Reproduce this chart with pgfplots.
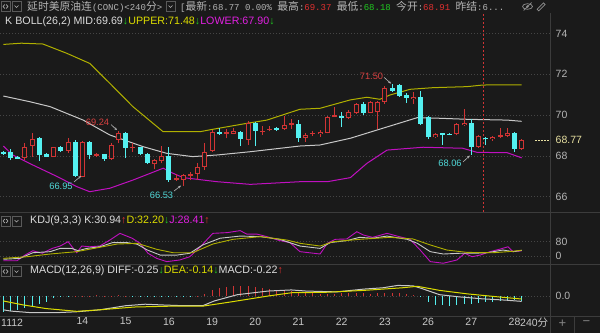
\documentclass[border=0pt]{standalone}
\usepackage{pgfplots}
\pgfplotsset{compat=1.18}
\usepackage{pgfplotstable}
\usetikzlibrary{arrows.meta}
\usepackage{fontspec}
\setmainfont{Liberation Sans}
\setmonofont{Liberation Mono}
\newfontfamily\cjk{Noto Sans CJK SC}
\definecolor{bg}{HTML}{1A1A1A}
\definecolor{sepc}{HTML}{3C3C3C}
\definecolor{gridc}{HTML}{454545}
\definecolor{lblc}{HTML}{B4B4B4}
\definecolor{txtc}{HTML}{DCDCDC}
\definecolor{candR}{HTML}{D03434}
\definecolor{candC}{HTML}{54F0F0}
\definecolor{midc}{HTML}{C8C8C8}
\definecolor{upc}{HTML}{B0B000}
\definecolor{loc}{HTML}{C010C0}
\definecolor{ylw}{HTML}{DCDC00}
\definecolor{mag}{HTML}{E020E0}
\definecolor{grn}{HTML}{20C820}
\definecolor{redA}{HTML}{E03030}
\definecolor{annR}{HTML}{D84040}
\definecolor{annC}{HTML}{50D8D8}
\definecolor{iconc}{HTML}{5A5A5A}
\definecolor{curc}{HTML}{E6DFA0}
\newcommand\hdr{\fontsize{10.7}{12}\selectfont}
\newcommand\lbl{\fontsize{10.5}{12}\selectfont}
\newcommand\annf{\fontsize{9.3}{11}\selectfont}
\newcommand\CJ[1]{{\cjk\fontsize{10.8}{13}\selectfont #1}}
\newcommand\MO[1]{{\ttfamily\fontsize{9.0}{13}\selectfont #1}}
\newcommand\iconLR[2]{%
 \draw[iconc, line width=0.6pt] (#1,#2) rectangle (#1+9,#2+10);
 \draw[lblc, line width=0.6pt] (#1+3.8,#2+3) -- (#1+2,#2+5) -- (#1+3.8,#2+7) (#1+5.2,#2+3) -- (#1+7,#2+5) -- (#1+5.2,#2+7);}
\newcommand\iconV[2]{%
 \draw[iconc, line width=0.6pt] (#1,#2) rectangle (#1+9,#2+10);
 \draw[lblc, line width=0.7pt] (#1+2.5,#2+6) -- (#1+4.5,#2+4) -- (#1+6.5,#2+6);}

\pgfplotstableread{
i o h l c
3 67.88 68.61 67.79 68.45
4 68.50 69.10 67.96 68.82
7 67.96 68.45 67.94 68.42
9 68.25 68.86 68.15 68.69
11 66.98 68.74 66.95 68.66
13 68.00 68.15 67.93 68.09
15 67.83 68.61 67.80 68.53
16 68.77 69.24 68.61 69.10
18 68.37 68.61 68.18 68.45
21 67.60 67.84 67.34 67.79
22 67.75 68.48 67.63 67.99
24 66.81 67.09 66.78 66.90
25 66.81 67.09 66.53 67.06
26 67.06 67.22 66.81 67.10
27 67.11 67.63 66.81 67.47
28 67.44 68.61 67.30 68.20
29 68.24 69.26 68.20 69.18
31 69.11 69.30 68.86 69.14
32 69.07 69.38 69.05 69.22
34 68.77 69.71 68.53 69.59
36 69.20 69.45 69.02 69.23
37 69.28 69.45 69.20 69.31
39 69.30 69.95 69.28 69.51
40 69.55 69.80 69.30 69.58
42 68.89 69.10 68.70 69.02
43 69.08 69.20 68.98 69.11
44 69.05 69.25 68.92 69.18
45 69.13 69.95 69.10 69.92
46 69.94 70.38 69.90 69.97
48 69.84 70.25 69.80 70.16
49 70.11 70.60 70.05 70.52
51 70.11 70.70 70.08 70.65
52 70.16 70.70 69.30 70.62
53 70.62 71.40 70.55 71.34
57 70.77 71.15 70.55 70.90
60 68.91 69.10 68.88 69.07
63 69.05 69.62 69.00 69.56
64 69.51 70.28 69.45 69.62
66 68.42 69.00 68.40 68.97
68 68.82 68.98 68.75 68.94
69 68.96 69.35 68.85 68.99
70 68.97 69.35 68.90 69.13
72 68.32 68.80 68.30 68.77
}\upC
\pgfplotstableread{
i o h l c
0 68.17 68.24 68.06 68.14
1 68.20 68.32 67.79 67.91
2 67.93 67.98 67.84 67.90
5 68.86 68.94 67.76 68.04
6 68.09 68.12 67.93 67.96
8 68.42 68.48 68.18 68.25
10 68.69 68.77 66.98 67.02
12 68.66 68.74 67.83 68.04
14 68.09 68.10 67.75 67.83
17 69.10 69.18 67.88 68.40
19 68.42 68.45 68.02 68.07
20 68.09 68.12 67.60 67.63
23 67.99 68.45 66.73 66.81
30 69.18 69.35 69.04 69.07
33 69.18 69.20 68.48 68.81
35 69.59 69.67 68.48 69.22
38 69.33 69.40 69.22 69.30
41 69.56 69.75 68.69 68.86
47 69.95 70.15 69.43 69.84
50 70.52 70.62 70.02 70.11
54 71.34 71.50 71.15 71.18
55 71.47 71.50 70.90 70.93
56 70.98 71.06 70.60 70.82
58 70.90 71.20 69.50 69.54
59 69.89 69.95 68.80 68.91
61 69.09 69.12 68.53 69.05
62 69.07 69.12 69.00 69.05
65 69.62 69.82 68.06 68.42
67 68.88 68.92 68.55 68.82
71 69.13 69.18 68.18 68.32
}\dnC

\pgfplotsset{panel/.style={scale only axis, width=550pt, xmin=-0.458, xmax=75.93,
  axis line style={draw=none}, xtick=\empty, major tick length=0pt,
  ymajorgrids, grid style={gridc, line width=0.6pt, dash pattern=on 1pt off 2pt},
  yticklabel pos=right, yticklabel style={text=lblc, font=\lbl, anchor=west, inner sep=0pt, xshift=5.5pt},
  anchor=south west, clip=true},
 wick/.style={draw=none, mark=none, forget plot, error bars/.cd, y dir=plus, y explicit, error mark=none, error bar style={draw=#1, line width=1pt}},
 body/.style 2 args={draw=none, mark=none, forget plot, error bars/.cd, y dir=both, y explicit, error mark=none, error bar style={draw=#1, line width=#2}}}

\begin{document}
\begin{tikzpicture}[x=1pt,y=1pt]
\path[use as bounding box] (0,0) rectangle (600,333);
\fill[bg] (0,0) rectangle (600,333);

% ---------- main price panel ----------
\begin{axis}[panel, at={(0pt,121pt)}, height=199pt, ymin=65.245, ymax=75.0,
  ytick={66,68,70,72,74}, yticklabels={66,68,70,72,74}]
\addplot[upc, line width=1pt] coordinates {(0,73.46) (2.5,73.52) (5.5,73.48) (8.85,73.02) (12.0,72.53) (14.8,71.55) (18.0,70.41) (20.8,69.59) (22.2,69.18) (27.3,69.18) (29.1,69.30) (33.8,69.59) (36.6,69.75) (41.2,70.28) (44.0,70.33) (48.2,70.74) (50.5,70.87) (52.3,70.77) (53.7,70.98) (56.5,71.26) (59.7,71.34) (64.4,71.39) (66.6,71.47) (72,71.48)};
\addplot[midc, line width=1pt] coordinates {(0,70.93) (3.7,70.65) (6.5,70.41) (11.1,69.75) (14.8,69.02) (19.4,68.45) (22.7,68.12) (26.3,67.96) (29.7,68.04) (34.3,68.20) (41.2,68.48) (44.0,68.53) (48.2,68.86) (52.7,69.35) (57.5,69.87) (60.6,69.84) (64.4,69.79) (70,69.75) (72,69.69)};
\addplot[loc, line width=1pt] coordinates {(0,68.48) (1.3,68.04) (4.1,67.55) (7.5,66.98) (10.2,66.49) (12.0,66.24) (14.8,66.41) (18.0,66.81) (20.4,67.14) (22.2,67.39) (23.6,67.14) (25.0,66.93) (29.7,66.73) (34.3,66.60) (41.2,66.73) (45,66.73) (48.2,66.93) (50.5,67.63) (53.3,68.28) (58.3,68.42) (63.8,68.37) (65.8,68.17) (70,68.15) (72,67.90)};
\addplot[candR, line width=0.7pt, dash pattern=on 2pt off 2pt] coordinates {(66.67,65.245) (66.67,75)};
% wicks
\addplot[wick=candC] table[x=i, y=l, y error plus expr={\thisrow{h}-\thisrow{l}}] {\dnC};
\addplot[wick=candR] table[x=i, y=l, y error plus expr={\thisrow{h}-\thisrow{l}}] {\upC};
% bodies
\addplot[body={candC}{5pt}] table[x=i, y expr={(\thisrow{o}+\thisrow{c})/2}, y error expr={max(abs(\thisrow{o}-\thisrow{c})/2,0.025)}] {\dnC};
\addplot[body={candR}{5pt}] table[x=i, y expr={(\thisrow{o}+\thisrow{c})/2}, y error expr={max(abs(\thisrow{o}-\thisrow{c})/2,0.025)}] {\upC};
\addplot[body={bg}{3pt}] table[x=i, y expr={(\thisrow{o}+\thisrow{c})/2}, y error expr={max(abs(\thisrow{o}-\thisrow{c})/2-0.049,0)}] {\upC};
% current price marker
\addplot[curc, line width=0.8pt, dash pattern=on 1.5pt off 1.5pt] coordinates {(73.85,68.77) (75.9,68.77)};
% annotations
\node[text=annR, font=\annf, inner sep=0pt] at (axis cs:13.08,69.62) {69.24};
\node[text=annC, font=\annf, inner sep=0pt] at (axis cs:8.01,66.52) {66.95};
\node[text=annC, font=\annf, inner sep=0pt] at (axis cs:21.97,66.08) {66.53};
\node[text=annR, font=\annf, inner sep=0pt] at (axis cs:51.14,71.91) {71.50};
\node[text=annC, font=\annf, inner sep=0pt] at (axis cs:62.04,67.62) {68.06};
\begin{scope}[lblc, line width=0.6pt, -{Stealth[length=3pt,width=2.6pt]}]
\draw (axis cs:14.96,69.53) -- (axis cs:15.79,69.26);
\draw (axis cs:9.82,66.72) -- (axis cs:10.8,67.01);
\draw (axis cs:23.7,66.27) -- (axis cs:24.68,66.54);
\draw (axis cs:52.9,71.84) -- (axis cs:53.85,71.54);
\draw (axis cs:63.85,67.70) -- (axis cs:64.8,68.01);
\end{scope}
\end{axis}

% ---------- KDJ panel ----------
\begin{axis}[panel, at={(0pt,69pt)}, height=52pt, ymin=-44.14, ymax=242.8,
  ytick={0,80}, yticklabels={0,80}]
\addplot[loc, line width=0.9pt] coordinates {(0,-26) (1.9,-26) (3.0,5) (4.1,29) (5.4,15) (6.8,42) (7.9,55) (9.0,79) (10.2,18) (10.9,55) (12.0,51) (13.4,55) (14.8,88) (16.2,125) (17.9,98) (19.0,70) (20.1,15) (21.3,-13) (22.7,-31) (24.5,-22) (25.9,-4) (27.3,48) (29.1,125) (31.1,129) (32.9,140) (33.8,121) (35.2,121) (36.6,107) (38.4,85) (39.8,74) (41.2,24) (44.0,11) (45.0,70) (46.1,92) (47.7,94) (49.1,134) (50.0,116) (51.3,103) (53.3,125) (54.7,110) (56.5,92) (57.9,33) (59.3,-31) (61.1,-40) (63.0,-22) (64.1,15) (65.1,-4) (66.2,5) (67.6,24) (68.9,37) (70.1,51) (70.8,24) (72,28.41)};
\addplot[midc, line width=0.9pt] coordinates {(0,-18) (2.3,-13) (4.1,18) (6.5,24) (7.9,42) (9.5,42) (10.4,29) (11.6,42) (13.4,51) (15.2,74) (17.2,74) (18.6,65) (20.0,33) (21.8,5) (24.1,5) (25.9,15) (27.7,61) (30.1,98) (32.9,110) (35.7,107) (38.4,92) (39.4,79) (41.2,55) (44.0,42) (45.4,74) (47.7,85) (49.5,103) (51.3,98) (53.3,110) (56.1,92) (57.5,70) (59.3,24) (61.1,11) (63.4,15) (65.2,15) (67.2,18) (69.4,33) (70.8,24) (72,30.94)};
\addplot[upc, line width=0.9pt] coordinates {(0,-13) (3.3,-4) (6.5,11) (10.2,24) (13.4,48) (15.8,66) (18.6,70) (21.3,37) (23.6,18) (26.3,18) (29.1,66) (31.9,92) (35.7,107) (39.4,88) (41.2,70) (44.0,55) (45.8,79) (49.5,92) (53.7,103) (56.9,94) (59.3,61) (61.6,33) (64.4,20) (68.0,18) (70.8,26) (72,32.2)};
\end{axis}

% ---------- MACD panel ----------
\begin{axis}[panel, at={(0pt,17pt)}, height=52pt, ymin=-0.926, ymax=1.481,
  ytick={0}, yticklabels={0.0},
  xtick={11,17,23,29,35,41,47,53,59,65,71},
  xticklabels={14,15,16,19,20,21,22,23,26,27,28},
  xticklabel style={text=midc, font=\lbl, anchor=north, inner sep=0pt, yshift=-1.5pt}]
\addplot[ycomb, candC, line width=1pt] coordinates {(0,-0.74) (1,-0.70) (2,-0.64) (3,-0.55) (4,-0.45) (5,-0.38) (6,-0.26) (7,-0.10) (8,-0.06) (9,-0.03) (18,-0.01) (19,-0.02) (20,-0.02) (21,-0.03) (22,-0.04) (23,-0.05) (24,-0.06) (25,-0.05) (26,-0.03) (58,-0.02) (59,-0.30) (60,-0.40) (61,-0.42) (62,-0.45) (63,-0.40) (64,-0.36) (65,-0.38) (66,-0.34) (67,-0.30) (68,-0.27) (69,-0.24) (70,-0.20) (71,-0.18) (72,-0.22)};
\addplot[ycomb, candR, line width=1pt] coordinates {(10,0.02) (11,0.02) (12,0.02) (13,0.03) (14,0.02) (15,0.02) (16,0.03) (17,0.02) (27,0.02) (28,0.10) (29,0.30) (30,0.38) (31,0.42) (32,0.45) (33,0.45) (34,0.44) (35,0.43) (36,0.38) (37,0.33) (38,0.30) (39,0.26) (40,0.22) (41,0.16) (42,0.12) (43,0.12) (44,0.08) (45,0.07) (46,0.10) (47,0.12) (48,0.14) (49,0.12) (50,0.12) (51,0.10) (52,0.12) (53,0.16) (54,0.15) (55,0.12) (56,0.10) (57,0.05)};
\addplot[midc, line width=1pt] coordinates {(0,-0.64) (1.1,-0.70) (3.8,-0.77) (7.5,-0.77) (10.2,-0.73) (13.4,-0.64) (17.0,-0.45) (19.7,-0.38) (22.5,-0.42) (25.1,-0.45) (27.7,-0.45) (29.3,-0.23) (32.5,0.06) (36.8,0.23) (40.0,0.28) (42.0,0.23) (46.3,0.19) (50.1,0.32) (52.7,0.38) (54.8,0.49) (56.9,0.47) (58.0,0.36) (60.6,0.06) (63.3,-0.04) (66.5,-0.13) (69.7,-0.19) (72,-0.25)};
\addplot[ylw, line width=1pt] coordinates {(0,-0.23) (2.7,-0.41) (5.9,-0.58) (10.2,-0.71) (13.4,-0.64) (18.2,-0.51) (23.4,-0.47) (27.7,-0.47) (31.5,-0.28) (36.8,0.0) (40.0,0.15) (44.7,0.17) (50.1,0.26) (55.4,0.38) (57.5,0.45) (60.6,0.26) (64.4,0.10) (68.7,-0.04) (72,-0.14)};
\end{axis}

% ---------- frame lines ----------
\draw[sepc, line width=0.8pt] (550.5,0) -- (550.5,320);
\draw[sepc, line width=0.8pt] (0,121) -- (600,121) (0,69) -- (600,69) (0,17) -- (600,17);
\draw[sepc, line width=0.8pt] (574.5,0) -- (574.5,17);

% ---------- title row ----------
\iconLR{1}{321.5}
\iconV{12}{321.5}
\node[anchor=west, inner sep=0pt, text=lblc] at (27,326.5) {\CJ{延时美原油连}\MO{(CONC)<240}\CJ{分}\MO{>}};
\iconV{166}{321.5}
\node[anchor=west, inner sep=0pt, text=lblc] at (180,326.5) {\MO{[}\CJ{最新}\MO{:68.77 0.00\% }\CJ{最高}\MO{:}\textcolor{redA}{\MO{69.37}}\MO{ }\CJ{最低}\MO{:}\textcolor{grn}{\MO{68.18}}\MO{ }\CJ{今开}\MO{:}\textcolor{redA}{\MO{68.91}}\MO{ }\CJ{昨结}\MO{:6...}};
% eye + pencil
\begin{scope}[lblc!75!bg, line width=0.7pt]
\draw (527.5,326.5) ellipse (5 and 2.8);
\fill (527.5,326.5) circle (1.3);
\draw (523.5,322.5) -- (531.5,330.5);
\draw[rotate around={45:(541.5,326.5)}] (536.5,325.3) rectangle (545.5,327.7);
\end{scope}

% ---------- panel headers ----------
\node[anchor=west, inner sep=0pt, text=txtc, font=\hdr] at (5,311) {K BOLL(26,2) MID:69.69\textcolor{grn}{↓}\textcolor{ylw}{UPPER:71.48}\textcolor{grn}{↓}\textcolor{mag}{LOWER:67.90}\textcolor{grn}{↓}};
\iconLR{1}{107}
\iconV{12}{107}
\node[anchor=west, inner sep=0pt, text=txtc, font=\hdr] at (30,112) {KDJ(9,3,3) K:30.94\textcolor{redA}{↑}\textcolor{ylw}{D:32.20}\textcolor{grn}{↓}\textcolor{mag}{J:28.41}\textcolor{redA}{↑}};
\iconLR{1}{56.5}
\iconV{12}{56.5}
\node[anchor=west, inner sep=0pt, text=txtc, font=\hdr] at (30,62) {MACD(12,26,9) DIFF:-0.25\textcolor{grn}{↓}\textcolor{ylw}{DEA:-0.14}\textcolor{grn}{↓}MACD:-0.22\textcolor{redA}{↑}};

% ---------- right / bottom labels ----------
\node[anchor=west, inner sep=0pt, text=curc, font=\lbl] at (555.5,193.5) {68.77};
\node[anchor=west, inner sep=0pt, text=midc, font=\lbl] at (1,10.5) {1112};
\node[anchor=west, inner sep=0pt, text=midc] at (520,10.5) {{\lbl 240}{\cjk\fontsize{10.5}{12}\selectfont 分}};
\node[text=lblc!70!bg, font=\fontsize{13}{14}\selectfont, inner sep=0pt] at (562.5,9.5) {+};
\node[text=lblc!70!bg, font=\fontsize{13}{14}\selectfont, inner sep=0pt] at (586.5,9.5) {−};
\end{tikzpicture}
\end{document}
